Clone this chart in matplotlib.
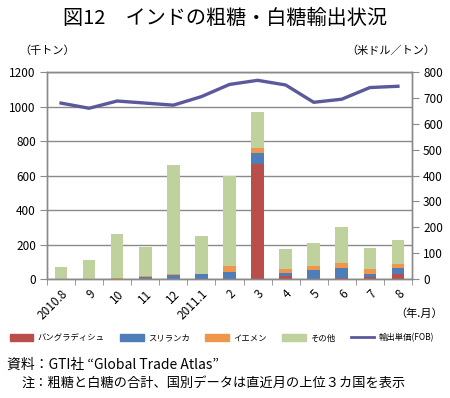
import matplotlib
matplotlib.use('Agg')
import matplotlib.pyplot as plt
from matplotlib.lines import Line2D
from matplotlib.patches import Patch
import numpy as np

plt.rcParams['font.family'] = ['Noto Sans CJK JP', 'DejaVu Sans']

# データ（千トン、米ドル/トン）
meses = ['2010.8', '9', '10', '11', '12', '2011.1', '2', '3', '4', '5', '6', '7', '8']
bangladesh = [0, 0, 0, 0, 0, 0, 0, 666, 17, 0, 6, 12, 29]
srilanka = [0, 0, 0, 12, 23, 29, 41, 64, 17, 52, 58, 17, 35]
yemen = [0, 0, 7, 8, 8, 2, 35, 28, 23, 23, 29, 29, 23]
sonota = [70, 110, 253, 165, 629, 217, 522, 210, 118, 133, 207, 122, 138]
tanka = [680, 660, 688, 680, 672, 705, 752, 768, 750, 683, 695, 740, 745]

cor_bd = '#B94E4B'
cor_sl = '#4F7DB8'
cor_ye = '#F0964A'
cor_ot = '#BFD19C'
cor_linha = '#5B589C'
cinza = '#8A8A8A'

fig = plt.figure(figsize=(4.5, 3.98), dpi=100)
ax = fig.add_axes([0.1044, 0.299, 0.8111, 0.520])

x = np.arange(len(meses))
w = 0.45
base = np.zeros(len(meses))
for vals, cor in [(bangladesh, cor_bd), (srilanka, cor_sl), (yemen, cor_ye), (sonota, cor_ot)]:
    ax.bar(x, vals, w, bottom=base, color=cor, zorder=2)
    base = base + np.array(vals)

ax.set_xlim(-0.5, len(meses) - 0.5)
ax.set_ylim(0, 1200)
ax.set_yticks(range(0, 1201, 200))
ax.grid(axis='y', color=cinza, linewidth=1, zorder=0)
ax.set_axisbelow(True)

ax.set_xticks(x)
ax.set_xticklabels(meses, rotation=45, ha='right', va='top', rotation_mode='anchor', fontsize=8.5)
ax.tick_params(axis='x', which='major', length=0, pad=6)
ax.set_xticks(np.arange(-0.5, len(meses), 1), minor=True)
ax.tick_params(axis='x', which='minor', length=4, color=cinza)
ax.tick_params(axis='y', length=5, color=cinza, labelsize=8.5, pad=3)

ax2 = ax.twinx()
ax2.plot(x, tanka, color=cor_linha, linewidth=2.4, zorder=3)
ax2.set_ylim(0, 800)
ax2.set_yticks(range(0, 801, 100))
ax2.tick_params(axis='y', length=5, color=cinza, labelsize=8.5, pad=3)

for a in (ax, ax2):
    for s in a.spines.values():
        s.set_color(cinza)
        s.set_linewidth(1)

fig.text(0.5, 0.953, '図12　インドの粗糖・白糖輸出状況', ha='center', va='center', fontsize=14.5)
fig.text(0.042, 0.873, '（千トン）', ha='left', va='center', fontsize=8)
fig.text(0.968, 0.873, '（米ドル／トン）', ha='right', va='center', fontsize=8)
fig.text(0.985, 0.213, '（年.月）', ha='right', va='center', fontsize=8)

handles = [Patch(color=cor_bd), Patch(color=cor_sl), Patch(color=cor_ye), Patch(color=cor_ot),
           Line2D([0], [0], color=cor_linha, linewidth=2)]
labels = ['バングラディシュ', 'スリランカ', 'イエメン', 'その他', '輸出単価(FOB)']
fig.legend(handles, labels, loc='center left', bbox_to_anchor=(0.022, 0.151), ncol=5,
           frameon=False, fontsize=6, handlelength=2.8, handleheight=0.8,
           handletextpad=0.5, columnspacing=1.9, borderpad=0, borderaxespad=0)

fig.text(0.015, 0.083, '資料：GTI社 “Global Trade Atlas”', ha='left', va='center', fontsize=10)
fig.text(0.047, 0.038, '注：粗糖と白糖の合計、国別データは直近月の上位３カ国を表示', ha='left', va='center', fontsize=9.5)

fig.savefig('out.png', dpi=100)
